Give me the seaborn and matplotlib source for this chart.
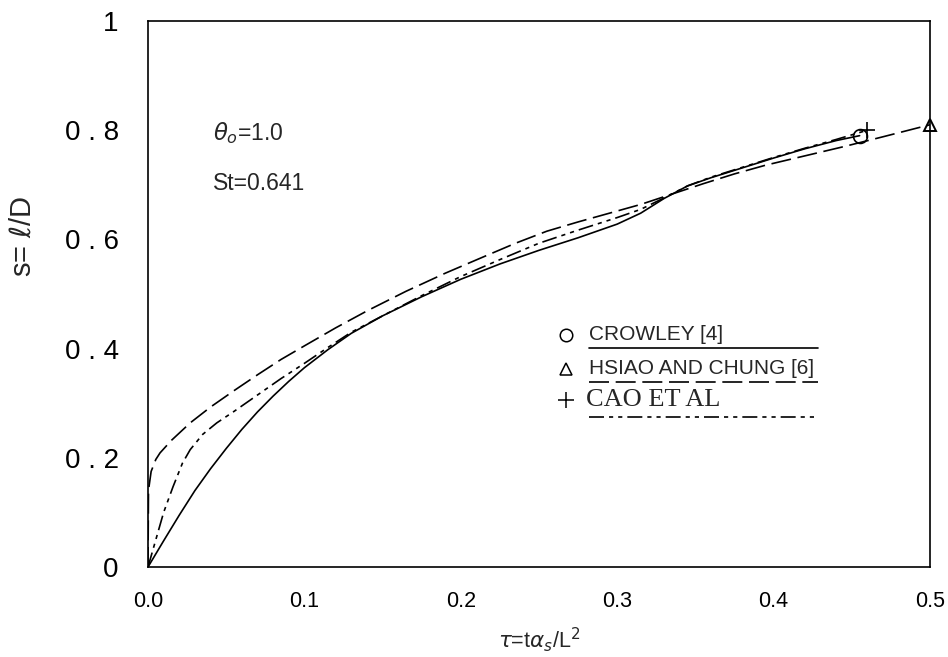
import matplotlib
matplotlib.use("Agg")
import matplotlib.pyplot as plt
import seaborn as sns

# ---- data ----
crowley_x = [0.0, 0.01, 0.02, 0.03, 0.04, 0.05, 0.06, 0.07, 0.08, 0.09, 0.1, 0.115, 0.13, 0.15, 0.175,
             0.2, 0.225, 0.25, 0.275, 0.3, 0.315, 0.33, 0.345, 0.36, 0.38, 0.4, 0.42, 0.44, 0.455]
crowley_y = [0.0, 0.048, 0.095, 0.14, 0.18, 0.217, 0.252, 0.284, 0.313, 0.34, 0.365, 0.398, 0.428, 0.46, 0.495,
             0.527, 0.555, 0.58, 0.603, 0.628, 0.648, 0.675, 0.698, 0.713, 0.731, 0.749, 0.766, 0.781, 0.79]

cao_x = [0.0, 0.005, 0.01, 0.016, 0.022, 0.027, 0.035, 0.044, 0.055, 0.07, 0.085, 0.1, 0.115, 0.13, 0.15,
         0.175, 0.2, 0.225, 0.25, 0.275, 0.3, 0.315, 0.33, 0.345, 0.36, 0.38, 0.4, 0.42, 0.44, 0.46]
cao_y = [0.0, 0.05, 0.1, 0.147, 0.19, 0.215, 0.243, 0.264, 0.285, 0.315, 0.345, 0.373, 0.402, 0.43, 0.46,
         0.497, 0.532, 0.563, 0.593, 0.617, 0.64, 0.655, 0.676, 0.698, 0.714, 0.732, 0.75, 0.767, 0.783, 0.8]

hsiao_x = [0.0, 0.0003, 0.002, 0.005, 0.0077, 0.015, 0.027, 0.04, 0.055, 0.07, 0.085, 0.1, 0.12, 0.14, 0.165,
           0.19, 0.212, 0.235, 0.255, 0.275, 0.295, 0.315, 0.335, 0.355, 0.375, 0.395, 0.42, 0.445, 0.47, 0.5]
hsiao_y = [0.0, 0.14, 0.175, 0.197, 0.209, 0.232, 0.264, 0.293, 0.323, 0.352, 0.38, 0.405, 0.438, 0.469, 0.505,
           0.538, 0.565, 0.593, 0.615, 0.632, 0.648, 0.664, 0.683, 0.702, 0.72, 0.736, 0.753, 0.77, 0.788, 0.81]

x_ticks = [0.0, 0.1, 0.2, 0.3, 0.4, 0.5]
x_ticklabels = ["0.0", "0.1", "0.2", "0.3", "0.4", "0.5"]
y_ticks = [0.0, 0.2, 0.4, 0.6, 0.8, 1.0]
y_ticklabels = ["0", "0 . 2", "0 . 4", "0 . 6", "0 . 8", "1"]

labels = ["CROWLEY [4]", "HSIAO AND CHUNG [6]", "CAO ET AL"]

# ---- style ----
sns.set_theme(style="white")
plt.rcParams["font.family"] = ["Liberation Sans", "DejaVu Sans"]
plt.rcParams["mathtext.fontset"] = "dejavusans"

fig = plt.figure(figsize=(9.48, 6.57), dpi=100)
ax = fig.add_axes([148 / 948, 1 - 567 / 657, (930 - 148) / 948, (567 - 21) / 657])

lw = 1.2
solid = "-"
longdash = (0, (12, 4))
dashdot = (0, (9, 3, 2.5, 3, 2.5, 3))

sns.lineplot(x=crowley_x, y=crowley_y, ax=ax, color="black", lw=lw, linestyle=solid,
             sort=False, estimator=None)
sns.lineplot(x=hsiao_x, y=hsiao_y, ax=ax, color="black", lw=lw, linestyle=longdash,
             sort=False, estimator=None)
sns.lineplot(x=cao_x, y=cao_y, ax=ax, color="black", lw=lw, linestyle=dashdot,
             sort=False, estimator=None)

# end markers
ax.plot([crowley_x[-1]], [crowley_y[-1]], marker="o", ms=10, mfc="none", mec="black", mew=1.2, clip_on=False)
ax.plot([hsiao_x[-1]], [hsiao_y[-1]], marker="^", ms=9, mfc="none", mec="black", mew=1.4, clip_on=False, zorder=5)
ax.plot([cao_x[-1]], [cao_y[-1]], marker="+", ms=12, mec="black", mew=1.2, clip_on=False)

ax.set_xlim(0, 0.5)
ax.set_ylim(0, 1)
ax.set_xticks(x_ticks)
ax.set_xticklabels(x_ticklabels, fontsize=15.5)
ax.set_yticks(y_ticks)
ax.set_yticklabels(y_ticklabels, fontsize=20)
ax.tick_params(axis="x", direction="out", length=7.5, width=1.0, colors="black", pad=10)
ax.tick_params(axis="y", direction="out", length=11, width=1.0, colors="black", pad=10)

for s in ax.spines.values():
    s.set_visible(True)
    s.set_color("black")
    s.set_linewidth(1.2)

ax.set_xlabel(r"$\tau$=t$\alpha_s$/L$^2$", fontsize=15.5)
ax.xaxis.set_label_coords(0.5, -0.106)
ax.set_ylabel(r"s= $\ell$/D", fontsize=21)
ax.yaxis.set_label_coords(-0.143, 0.606)

ax.text(0.083, 0.795, r"$\theta_o$=1.0", transform=ax.transAxes, fontsize=16.5, va="center")
ax.text(0.083, 0.703, "St=0.641", transform=ax.transAxes, fontsize=16.5, va="center")

# ---- custom legend ----
lx_m, lx_t, lx_e = 0.5345, 0.5645, 0.857
rows = [0.425, 0.363, 0.306]
under = [0.401, 0.339, 0.275]
mk = [dict(marker="o", ms=9, mfc="none", mew=1.1), dict(marker="^", ms=8, mfc="none", mew=1.1),
      dict(marker="+", ms=11, mew=1.1)]
styles = [solid, longdash, dashdot]
for i in range(3):
    ax.plot([lx_m], [rows[i]], transform=ax.transAxes, color="black", **mk[i])
    if i < 2:
        ax.text(lx_t, rows[i], labels[i], transform=ax.transAxes, fontsize=15, va="center")
    else:
        ax.text(lx_t - 0.004, rows[i], labels[i], transform=ax.transAxes, fontsize=19, va="center",
                family=["Liberation Serif", "DejaVu Serif"])
    ax.plot([lx_t, lx_e], [under[i], under[i]], transform=ax.transAxes, color="black",
            lw=lw, linestyle=styles[i])

fig.savefig("out.png", dpi=100)
